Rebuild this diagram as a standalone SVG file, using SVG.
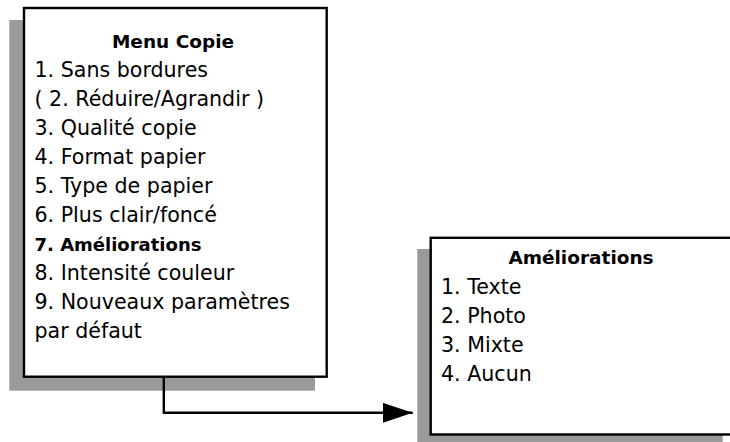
<svg xmlns="http://www.w3.org/2000/svg" width="730" height="442" viewBox="0 0 730 442">
<style>
.shadow{fill:#9a9a9a;stroke:none}
.box{fill:#fff;stroke:#000;stroke-width:2.4}
.t{font-family:"DejaVu Sans",sans-serif;font-size:20.6px;fill:#000}
.b{font-family:"DejaVu Sans",sans-serif;font-weight:bold;font-size:18.5px;fill:#000}
.b2{font-family:"DejaVu Sans",sans-serif;font-weight:bold;font-size:18px;fill:#000}
.c{text-anchor:middle}
.conn{fill:none;stroke:#000;stroke-width:2.4}
</style>
<defs>
<marker id="ah" markerUnits="userSpaceOnUse" markerWidth="32" markerHeight="22" refX="30" refY="10" orient="auto">
<polygon points="0,0 30,10 0,20" fill="#000"/>
</marker>
</defs>
<rect width="730" height="442" fill="#fff"/>
<g id="menu-copie">
<rect class="shadow" x="9.3" y="20" width="305.7" height="370.7"/>
<rect class="box" x="24" y="8" width="302.7" height="368.7"/>
<text class="b c" x="173" y="48">Menu Copie</text>
<text class="t" x="34.5" y="77">1. Sans bordures</text>
<text class="t" x="34.5" y="106">( 2. Réduire/Agrandir )</text>
<text class="t" x="34.5" y="135">3. Qualité copie</text>
<text class="t" x="34.5" y="164">4. Format papier</text>
<text class="t" x="34.5" y="193">5. Type de papier</text>
<text class="t" x="34.5" y="222">6. Plus clair/foncé</text>
<text class="b2" x="34.5" y="251">7. Améliorations</text>
<text class="t" x="34.5" y="280">8. Intensité couleur</text>
<text class="t" x="34.5" y="309">9. Nouveaux paramètres</text>
<text class="t" x="34.5" y="338">par défaut</text>
</g>
<g id="ameliorations">
<rect class="shadow" x="417.3" y="249" width="305.4" height="200"/>
<rect class="box" x="430.7" y="237.8" width="320" height="196.7"/>
<text class="b c" x="581" y="264">Améliorations</text>
<text class="t" x="441" y="294">1. Texte</text>
<text class="t" x="441" y="323">2. Photo</text>
<text class="t" x="441" y="352">3. Mixte</text>
<text class="t" x="441" y="381">4. Aucun</text>
</g>
<g id="connectors">
<path class="conn" d="M163.8,377.5 V412.8 H412.7" marker-end="url(#ah)"/>
</g>
</svg>
